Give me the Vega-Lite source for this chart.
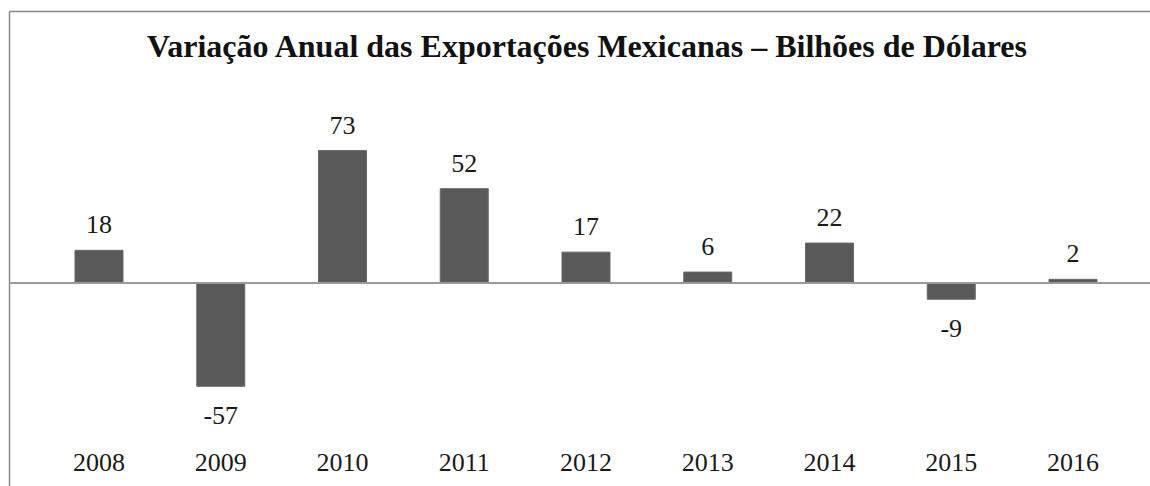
{
  "$schema": "https://vega.github.io/schema/vega-lite/v6.json",
  "width": 1142,
  "height": 475,
  "padding": {"left": 8, "top": 11, "right": 0, "bottom": 0},
  "autosize": {"type": "pad"},
  "background": "white",
  "config": {"view": {"stroke": null}, "font": "Liberation Serif"},
  "title": {
    "text": "Variação Anual das Exportações Mexicanas – Bilhões de Dólares",
    "font": "Liberation Serif",
    "fontSize": 32,
    "fontWeight": "bold",
    "color": "#111111",
    "anchor": "middle",
    "frame": "group",
    "baseline": "alphabetic",
    "offset": -78,
    "dx": 7
  },
  "data": {
    "values": [
      {"year": "2008", "value": 18},
      {"year": "2009", "value": -57},
      {"year": "2010", "value": 73},
      {"year": "2011", "value": 52},
      {"year": "2012", "value": 17},
      {"year": "2013", "value": 6},
      {"year": "2014", "value": 22},
      {"year": "2015", "value": -9},
      {"year": "2016", "value": 2}
    ]
  },
  "layer": [
    {
      "mark": {"type": "bar", "color": "#595959", "stroke": "#6a6a6a", "strokeWidth": 1},
      "encoding": {
        "x": {
          "field": "year",
          "type": "nominal",
          "sort": null,
          "scale": {"paddingInner": 0.6057, "paddingOuter": 0.4928, "align": 0.55},
          "axis": {
            "orient": "bottom",
            "title": null,
            "domain": false,
            "ticks": false,
            "labelAngle": 0,
            "labelFont": "Liberation Serif",
            "labelFontSize": 26,
            "labelColor": "#1a1a1a",
            "labelBaseline": "alphabetic",
            "labelPadding": 0,
            "offset": -16
          }
        },
        "y": {
          "field": "value",
          "type": "quantitative",
          "scale": {"domain": [-112, 150], "nice": false, "zero": false},
          "axis": {
            "title": null,
            "labels": false,
            "ticks": false,
            "grid": false,
            "domain": true,
            "domainColor": "#8a8a8a",
            "domainWidth": 1.5
          }
        }
      }
    },
    {
      "mark": {"type": "rule", "color": "#9a9a9a", "strokeWidth": 1.2},
      "encoding": {
        "y": {"datum": 0}
      }
    },
    {
      "transform": [{"filter": "datum.value >= 0"}],
      "mark": {"type": "text", "font": "Liberation Serif", "fontSize": 26, "color": "#1a1a1a", "baseline": "alphabetic", "dy": -17},
      "encoding": {
        "x": {
          "field": "year",
          "type": "nominal",
          "sort": null,
          "axis": {
            "orient": "top",
            "title": null,
            "labels": false,
            "ticks": false,
            "domain": true,
            "domainColor": "#8a8a8a",
            "domainWidth": 1.5
          }
        },
        "y": {"field": "value", "type": "quantitative"},
        "text": {"field": "value", "type": "nominal"}
      }
    },
    {
      "transform": [{"filter": "datum.value < 0"}],
      "mark": {"type": "text", "font": "Liberation Serif", "fontSize": 26, "color": "#1a1a1a", "baseline": "alphabetic", "dy": 38},
      "encoding": {
        "x": {"field": "year", "type": "nominal", "sort": null, "axis": null},
        "y": {"field": "value", "type": "quantitative"},
        "text": {"field": "value", "type": "nominal"}
      }
    }
  ],
  "resolve": {"axis": {"x": "independent"}}
}
